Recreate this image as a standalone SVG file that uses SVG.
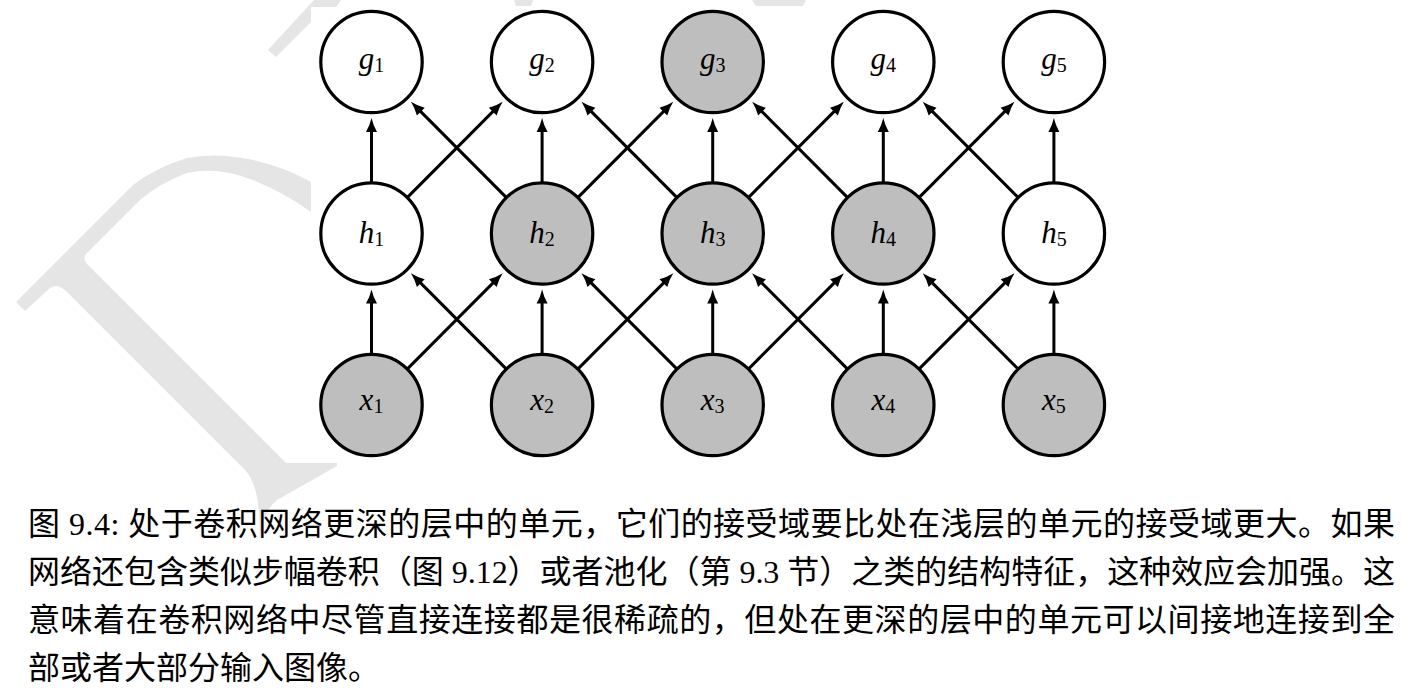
<svg xmlns="http://www.w3.org/2000/svg" width="1406" height="696" viewBox="0 0 1406 696">
<defs>
<style>
.wm{fill:#e5e5e5;stroke:none}
.node circle{stroke:#000;stroke-width:3.2}
.white{fill:#fff}
.gray{fill:#bebebe}
.lbl{font-family:"Liberation Serif","DejaVu Serif",serif;font-size:31px;fill:#000;text-anchor:middle}
.lbl .v{font-style:italic}
.lbl .s{font-size:20px}
.edges line{stroke:#000;stroke-width:3;fill:none;marker-end:url(#arr)}
.cap{font-family:"Liberation Serif","Noto Sans CJK SC",sans-serif;font-size:32px;fill:#000}
</style>
<marker id="arr" markerUnits="userSpaceOnUse" markerWidth="15" markerHeight="12" viewBox="0 -6 15 12" refX="5" refY="0" orient="auto" overflow="visible">
<path d="M14,0 Q6.5,1.7 0,5.5 L0,-5.5 Q6.5,-1.7 14,0 Z" fill="#000"/>
</marker>
</defs>
<rect width="1406" height="696" fill="#fff"/>
<g id="watermark">
<path class="wm" d="M16,302 L25,311 L50,288 Q58,283 67,292 L246,471 Q262,490 259,543 Q262,512 277,500 L337,466 L337,463 L286,463 L88,265 Q82,259 86,254 L140,200 Q160,183 187,173 Q217,166 253,180 Q287,194 311,212 L311,182 Q287,168 253,160 Q217,152 187,158 Q157,167 133,185 Z"/>
<path class="wm" d="M268,50 L276,57 L311,22 L311,7 L336,7 L341,0 L314,0 Z"/>
<path class="wm" d="M514,0 L533,0 L531,6 L516,6 Z"/>
<path class="wm" d="M752,0 L806,0 L803,6 L756,6 Z"/>
</g>
<g id="connectors" class="edges">
<line x1="371.5" y1="360" x2="371.5" y2="298.5"/>
<line x1="542.1" y1="360" x2="542.1" y2="298.5"/>
<line x1="712.7" y1="360" x2="712.7" y2="298.5"/>
<line x1="883.3" y1="360" x2="883.3" y2="298.5"/>
<line x1="1053.9" y1="360" x2="1053.9" y2="298.5"/>
<line x1="371.5" y1="188.5" x2="371.5" y2="127"/>
<line x1="542.1" y1="188.5" x2="542.1" y2="127"/>
<line x1="712.7" y1="188.5" x2="712.7" y2="127"/>
<line x1="883.3" y1="188.5" x2="883.3" y2="127"/>
<line x1="1053.9" y1="188.5" x2="1053.9" y2="127"/>
<line x1="403.2" y1="373.1" x2="496.3" y2="279.6"/>
<line x1="573.8" y1="373.1" x2="666.9" y2="279.6"/>
<line x1="744.4" y1="373.1" x2="837.5" y2="279.6"/>
<line x1="915.0" y1="373.1" x2="1008.1" y2="279.6"/>
<line x1="510.4" y1="373.1" x2="417.3" y2="279.6"/>
<line x1="681.0" y1="373.1" x2="587.9" y2="279.6"/>
<line x1="851.6" y1="373.1" x2="758.5" y2="279.6"/>
<line x1="1022.2" y1="373.1" x2="929.1" y2="279.6"/>
<line x1="403.2" y1="201.6" x2="496.3" y2="108.1"/>
<line x1="573.8" y1="201.6" x2="666.9" y2="108.1"/>
<line x1="744.4" y1="201.6" x2="837.5" y2="108.1"/>
<line x1="915.0" y1="201.6" x2="1008.1" y2="108.1"/>
<line x1="510.4" y1="201.6" x2="417.3" y2="108.1"/>
<line x1="681.0" y1="201.6" x2="587.9" y2="108.1"/>
<line x1="851.6" y1="201.6" x2="758.5" y2="108.1"/>
<line x1="1022.2" y1="201.6" x2="929.1" y2="108.1"/>
</g>
<g id="g1" class="node"><circle class="white" cx="371.5" cy="62" r="50.7"/><text class="lbl" x="371.5" y="69"><tspan class="v">g</tspan><tspan class="s" dy="3">1</tspan></text></g>
<g id="g2" class="node"><circle class="white" cx="542.1" cy="62" r="50.7"/><text class="lbl" x="542.1" y="69"><tspan class="v">g</tspan><tspan class="s" dy="3">2</tspan></text></g>
<g id="g3" class="node"><circle class="gray" cx="712.7" cy="62" r="50.7"/><text class="lbl" x="712.7" y="69"><tspan class="v">g</tspan><tspan class="s" dy="3">3</tspan></text></g>
<g id="g4" class="node"><circle class="white" cx="883.3" cy="62" r="50.7"/><text class="lbl" x="883.3" y="69"><tspan class="v">g</tspan><tspan class="s" dy="3">4</tspan></text></g>
<g id="g5" class="node"><circle class="white" cx="1053.9" cy="62" r="50.7"/><text class="lbl" x="1053.9" y="69"><tspan class="v">g</tspan><tspan class="s" dy="3">5</tspan></text></g>
<g id="h1" class="node"><circle class="white" cx="371.5" cy="233.5" r="50.7"/><text class="lbl" x="371.5" y="243"><tspan class="v">h</tspan><tspan class="s" dy="3">1</tspan></text></g>
<g id="h2" class="node"><circle class="gray" cx="542.1" cy="233.5" r="50.7"/><text class="lbl" x="542.1" y="243"><tspan class="v">h</tspan><tspan class="s" dy="3">2</tspan></text></g>
<g id="h3" class="node"><circle class="gray" cx="712.7" cy="233.5" r="50.7"/><text class="lbl" x="712.7" y="243"><tspan class="v">h</tspan><tspan class="s" dy="3">3</tspan></text></g>
<g id="h4" class="node"><circle class="gray" cx="883.3" cy="233.5" r="50.7"/><text class="lbl" x="883.3" y="243"><tspan class="v">h</tspan><tspan class="s" dy="3">4</tspan></text></g>
<g id="h5" class="node"><circle class="white" cx="1053.9" cy="233.5" r="50.7"/><text class="lbl" x="1053.9" y="243"><tspan class="v">h</tspan><tspan class="s" dy="3">5</tspan></text></g>
<g id="x1" class="node"><circle class="gray" cx="371.5" cy="405" r="50.7"/><text class="lbl" x="371.5" y="410"><tspan class="v">x</tspan><tspan class="s" dy="3">1</tspan></text></g>
<g id="x2" class="node"><circle class="gray" cx="542.1" cy="405" r="50.7"/><text class="lbl" x="542.1" y="410"><tspan class="v">x</tspan><tspan class="s" dy="3">2</tspan></text></g>
<g id="x3" class="node"><circle class="gray" cx="712.7" cy="405" r="50.7"/><text class="lbl" x="712.7" y="410"><tspan class="v">x</tspan><tspan class="s" dy="3">3</tspan></text></g>
<g id="x4" class="node"><circle class="gray" cx="883.3" cy="405" r="50.7"/><text class="lbl" x="883.3" y="410"><tspan class="v">x</tspan><tspan class="s" dy="3">4</tspan></text></g>
<g id="x5" class="node"><circle class="gray" cx="1053.9" cy="405" r="50.7"/><text class="lbl" x="1053.9" y="410"><tspan class="v">x</tspan><tspan class="s" dy="3">5</tspan></text></g>
<g id="caption" class="cap">
<text x="28" y="535" textLength="1367" lengthAdjust="spacing">图 9.4: 处于卷积网络更深的层中的单元，它们的接受域要比处在浅层的单元的接受域更大。如果</text>
<text x="28" y="583" textLength="1367" lengthAdjust="spacing">网络还包含类似步幅卷积（图 9.12）或者池化（第 9.3 节）之类的结构特征，这种效应会加强。这</text>
<text x="28" y="631" textLength="1367" lengthAdjust="spacing">意味着在卷积网络中尽管直接连接都是很稀疏的，但处在更深的层中的单元可以间接地连接到全</text>
<text x="28" y="679">部或者大部分输入图像。</text>
</g>
</svg>
